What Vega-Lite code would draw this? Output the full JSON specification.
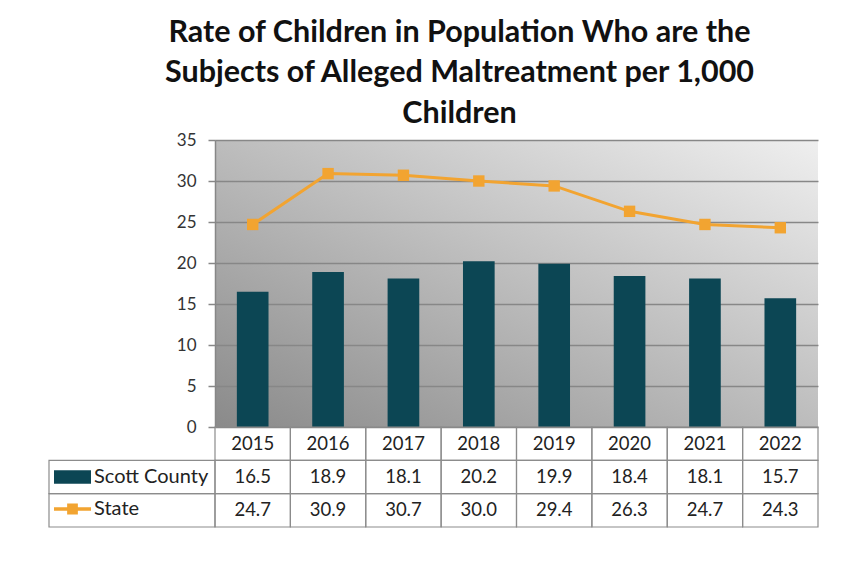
{
  "$schema": "https://vega.github.io/schema/vega-lite/v6.json",
  "background": "white",
  "padding": {"left": 48, "top": 17, "right": 30, "bottom": 30},
  "title": {
    "text": ["Rate of Children in Population Who are the", "Subjects of Alleged Maltreatment per 1,000", "Children"],
    "anchor": "middle",
    "dx": 26,
    "font": "Lato",
    "fontSize": 30.5,
    "fontWeight": "bold",
    "color": "#111111",
    "lineHeight": 40.5,
    "offset": 2
  },
  "datasets": {
    "rates": [
      {"year": "2015", "series": "Scott County", "value": 16.5},
      {"year": "2016", "series": "Scott County", "value": 18.9},
      {"year": "2017", "series": "Scott County", "value": 18.1},
      {"year": "2018", "series": "Scott County", "value": 20.2},
      {"year": "2019", "series": "Scott County", "value": 19.9},
      {"year": "2020", "series": "Scott County", "value": 18.4},
      {"year": "2021", "series": "Scott County", "value": 18.1},
      {"year": "2022", "series": "Scott County", "value": 15.7},
      {"year": "2015", "series": "State", "value": 24.7},
      {"year": "2016", "series": "State", "value": 30.9},
      {"year": "2017", "series": "State", "value": 30.7},
      {"year": "2018", "series": "State", "value": 30.0},
      {"year": "2019", "series": "State", "value": 29.4},
      {"year": "2020", "series": "State", "value": 26.3},
      {"year": "2021", "series": "State", "value": 24.7},
      {"year": "2022", "series": "State", "value": 24.3}
    ]
  },
  "columns": 2,
  "spacing": 0,
  "bounds": "flush",
  "align": "each",
  "concat": [
    {
      "width": 166,
      "height": 287,
      "data": {"values": []},
      "mark": "point"
    },
    {
      "width": 603,
      "height": 287,
      "data": {"name": "rates"},
      "view": {
        "stroke": null,
        "fill": {
          "gradient": "linear",
          "x1": 0, "y1": 1, "x2": 1, "y2": 0,
          "stops": [
            {"offset": 0, "color": "#8a8a8a"},
            {"offset": 1, "color": "#efefef"}
          ]
        }
      },
      "encoding": {
        "x": {
          "field": "year",
          "type": "ordinal",
          "scale": {"paddingInner": 0, "paddingOuter": 0},
          "axis": null
        },
        "y": {
          "field": "value",
          "type": "quantitative",
          "scale": {"domain": [0, 35], "nice": false},
          "axis": {
            "values": [0, 5, 10, 15, 20, 25, 30, 35],
            "title": null,
            "grid": true,
            "gridColor": "#878787",
            "gridWidth": 1.5,
            "domainColor": "#878787",
            "domainWidth": 1.5,
            "tickColor": "#878787",
            "tickSize": 7,
            "tickWidth": 1.5,
            "labelFont": "Lato",
            "labelFontSize": 17,
            "labelColor": "#333333",
            "labelPadding": 12
          }
        },
        "color": {
          "field": "series",
          "type": "nominal",
          "scale": {"domain": ["Scott County", "State"], "range": ["#0c4654", "#f2a431"]},
          "legend": {
            "orient": "none",
            "legendX": 5,
            "legendY": 321,
            "title": null,
            "padding": 0,
            "symbolSize": 1369,
            "clipHeight": 32,
            "rowPadding": 0,
            "labelOffset": 3,
            "labelFont": "Lato",
            "labelFontSize": 20,
            "labelColor": "#222222",
            "symbolStrokeWidth": 0,
            "encode": {
              "symbols": {
                "update": {
                  "shape": {"signal": "datum.value === 'State' ? 'M-1,-0.09H-0.29V-0.3H0.29V-0.09H1V0.09H0.29V0.3H-0.29V0.09H-1Z' : 'M-1,-0.36H1V0.36H-1Z'"},
                  "fill": {"signal": "datum.value === 'State' ? '#f2a431' : '#0c4654'"},
                  "stroke": {"value": "transparent"},
                  "opacity": {"value": 1}
                }
              }
            }
          }
        }
      },
      "layer": [
        {
          "transform": [{"filter": "datum.series === 'Scott County'"}],
          "mark": {"type": "bar", "width": {"band": 0.42}}
        },
        {
          "transform": [{"filter": "datum.series === 'State'"}],
          "mark": {
            "type": "line",
            "strokeWidth": 3,
            "point": {"shape": "square", "size": 130, "filled": true, "opacity": 1}
          }
        }
      ]
    },
    {
      "width": 166,
      "height": 100,
      "data": {"name": "rates"},
      "transform": [{"filter": "datum.year === '2015'"}],
      "mark": {"type": "rect", "fill": "white", "fillOpacity": 0, "stroke": "#8c8c8c", "strokeWidth": 1.2},
      "encoding": {
        "y": {
          "field": "series",
          "type": "nominal",
          "scale": {"domain": ["Year", "Scott County", "State"], "paddingInner": 0, "paddingOuter": 0},
          "axis": null
        }
      }
    },
    {
      "width": 603,
      "height": 100,
      "data": {"name": "rates"},
      "encoding": {
        "x": {
          "field": "year",
          "type": "ordinal",
          "scale": {"paddingInner": 0, "paddingOuter": 0},
          "axis": null
        }
      },
      "layer": [
        {
          "mark": {"type": "rect", "fill": "white", "fillOpacity": 0, "stroke": "#8c8c8c", "strokeWidth": 1.2},
          "encoding": {
            "y": {
              "field": "series",
              "type": "nominal",
              "scale": {"domain": ["Year", "Scott County", "State"], "paddingInner": 0, "paddingOuter": 0},
              "axis": null
            }
          }
        },
        {
          "transform": [{"filter": "datum.series === 'Scott County'"}],
          "mark": {"type": "rect", "fill": "white", "fillOpacity": 0, "stroke": "#8c8c8c", "strokeWidth": 1.2},
          "encoding": {"y": {"datum": "Year", "type": "nominal"}}
        },
        {
          "mark": {"type": "text", "font": "Lato", "fontSize": 18.5, "color": "#222222"},
          "encoding": {
            "y": {"field": "series", "type": "nominal"},
            "text": {"field": "value", "type": "quantitative", "format": ".1f"}
          }
        },
        {
          "transform": [{"filter": "datum.series === 'Scott County'"}],
          "mark": {"type": "text", "font": "Lato", "fontSize": 18.5, "color": "#222222"},
          "encoding": {
            "y": {"datum": "Year", "type": "nominal"},
            "text": {"field": "year", "type": "nominal"}
          }
        }
      ]
    }
  ],
  "config": {
    "view": {"stroke": null},
    "font": "Lato"
  }
}
